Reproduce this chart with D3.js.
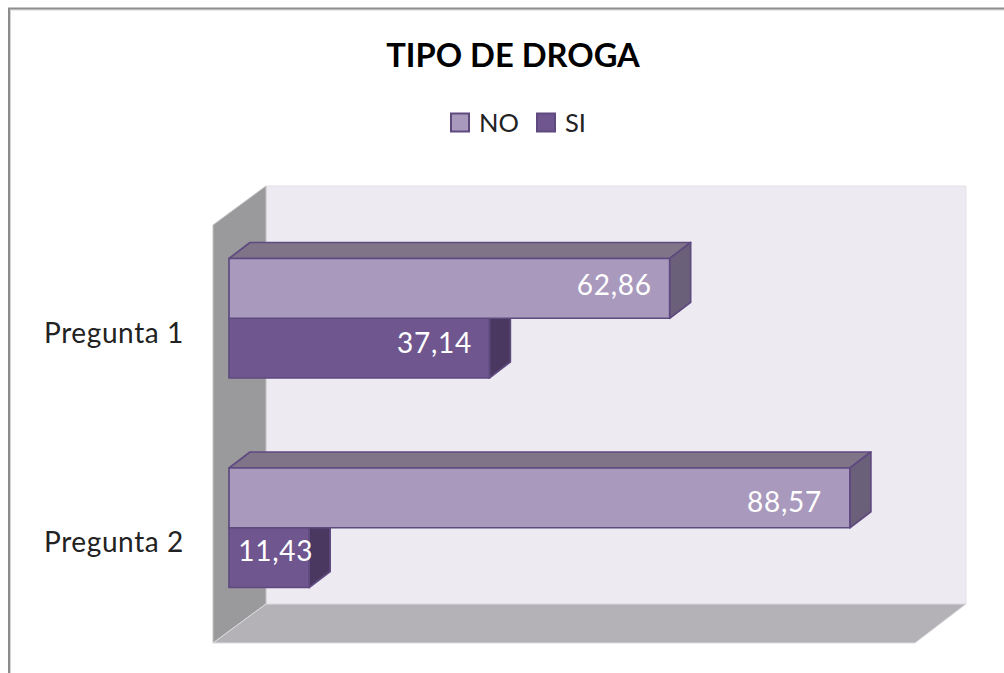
<!DOCTYPE html>
<html>
  <head>
    <meta charset="utf-8">
    <title>Tipo de droga</title>
    <script src="https://d3js.org/d3.v7.min.js"></script>
    <style>
      html, body { margin: 0; padding: 0; background: #fff; }
      svg { display: block; }
      text { font-family: Lato, "Open Sans", sans-serif; }
    </style>
  </head>
  <body>
    <svg id="chart" width="1004" height="673"></svg>
    <script>
      // chart data
      const categories = ["Pregunta 1", "Pregunta 2"];
      const seriesNames = ["NO", "SI"];
      const noValues = [62.86, 88.57];
      const siValues = [37.14, 11.43];
      const chartTitle = "TIPO DE DROGA";

      const colours = {
        NO: { front: "#a999bd", top: "#807489", side: "#6b6079", stroke: "#5f4a80" },
        SI: { front: "#6f568e", top: "#807489", side: "#4a3860", stroke: "#5f4a80" }
      };

      const svg = d3.select("#chart");
      const depth = { x: 21, y: -16 };

      // scales
      const x = d3.scaleLinear().domain([0, 100]).range([229, 930]);
      const yCat = d3.scaleBand().domain(categories).range([225, 644]);
      const ySeries = d3.scaleBand().domain(seriesNames).range([0, 119.5]);
      const barOffset = 33.5;

      // the original's data labels sit unevenly, so each one is nudged from its bar end
      const labelNudge = {
        "Pregunta 1 NO": { dx: -18, dy: 7 },
        "Pregunta 1 SI": { dx: -17.5, dy: 5 },
        "Pregunta 2 NO": { dx: -28, dy: 14 },
        "Pregunta 2 SI": { dx: 4, dy: 3.5 }
      };

      function pts(list) {
        return list.map(function(p) { return p.join(","); }).join(" ");
      }

      // outer frame
      svg.append("path")
        .attr("d", "M10.5,673V10H1004")
        .attr("fill", "none")
        .attr("stroke", "#d4d4d4")
        .attr("stroke-width", 1);
      svg.append("path")
        .attr("d", "M9,673V8.5H1004")
        .attr("fill", "none")
        .attr("stroke", "#8c8c8c")
        .attr("stroke-width", 2);

      // title
      svg.append("text")
        .attr("x", 513).attr("y", 67)
        .attr("text-anchor", "middle")
        .attr("font-size", 32.7)
        .attr("font-weight", 700)
        .attr("fill", "#000")
        .text(chartTitle);

      // legend
      const legendX = { NO: 451, SI: 537 };
      const legendText = { NO: 479, SI: 565 };
      seriesNames.forEach(function(name) {
        svg.append("rect")
          .attr("x", legendX[name]).attr("y", 113.5)
          .attr("width", 18).attr("height", 18)
          .attr("fill", colours[name].front)
          .attr("stroke", colours[name].stroke)
          .attr("stroke-width", 2);
        svg.append("text")
          .attr("x", legendText[name]).attr("y", 132)
          .attr("font-size", 25.5)
          .attr("fill", "#222")
          .text(name);
      });

      // 3d walls
      const backLeft = 266, backRight = 966, backTop = 186, backBottom = 604;
      const frontLeft = 213, frontRight = 915, frontTop = 225, frontBottom = 643;
      svg.append("polygon")
        .attr("points", pts([[backLeft, backTop], [backRight, backTop], [backRight, backBottom], [backLeft, backBottom]]))
        .attr("fill", "#edeaf1")
        .attr("stroke", "#e4e2e8");
      svg.append("polygon")
        .attr("points", pts([[frontLeft, frontTop], [backLeft, backTop], [backLeft, backBottom], [frontLeft, frontBottom]]))
        .attr("fill", "#9a999b")
        .attr("stroke", "#c4c4c6");
      svg.append("polygon")
        .attr("points", pts([[frontLeft, frontBottom], [backLeft, backBottom], [backRight, backBottom], [frontRight, frontBottom]]))
        .attr("fill", "#b4b2b6")
        .attr("stroke", "#dcdcde");

      // bars, lower series first so the upper bar's faces stay on top
      const rows = [];
      categories.forEach(function(cat, i) {
        rows.push({ cat: cat, name: "SI", value: siValues[i] });
        rows.push({ cat: cat, name: "NO", value: noValues[i] });
      });

      const barGroups = svg.selectAll("g.bar")
        .data(rows)
        .join("g")
        .attr("class", "bar");

      barGroups.each(function(d) {
        const g = d3.select(this);
        const c = colours[d.name];
        const x0 = x(0), x1 = x(d.value);
        const y0 = yCat(d.cat) + barOffset + ySeries(d.name);
        const y1 = y0 + ySeries.bandwidth();
        const faces = [
          { points: [[x0, y0], [x0 + depth.x, y0 + depth.y], [x1 + depth.x, y0 + depth.y], [x1, y0]], fill: c.top },
          { points: [[x1, y0], [x1 + depth.x, y0 + depth.y], [x1 + depth.x, y1 + depth.y], [x1, y1]], fill: c.side },
          { points: [[x0, y0], [x1, y0], [x1, y1], [x0, y1]], fill: c.front }
        ];
        faces.forEach(function(f) {
          g.append("polygon")
            .attr("points", pts(f.points))
            .attr("fill", f.fill)
            .attr("stroke", c.stroke)
            .attr("stroke-width", 1.7)
            .attr("stroke-linejoin", "round");
        });
      });

      // value labels go last so none is covered by a neighbouring bar
      svg.selectAll("text.value")
        .data(rows)
        .join("text")
        .attr("class", "value")
        .attr("x", function(d) { return x(d.value) + labelNudge[d.cat + " " + d.name].dx; })
        .attr("y", function(d) {
          return yCat(d.cat) + barOffset + ySeries(d.name) + ySeries.bandwidth() / 2 + labelNudge[d.cat + " " + d.name].dy;
        })
        .attr("text-anchor", "end")
        .attr("font-size", 28)
        .attr("letter-spacing", 0.7)
        .attr("fill", "#fff")
        .text(function(d) { return d3.format(".2f")(d.value).replace(".", ","); });

      // category labels
      svg.selectAll("text.cat")
        .data(categories)
        .join("text")
        .attr("class", "cat")
        .attr("x", 44)
        .attr("y", function(d) { return yCat(d) + barOffset + 84; })
        .attr("font-size", 28)
        .attr("letter-spacing", 0.6)
        .attr("fill", "#222")
        .text(function(d) { return d; });
    </script>
  </body>
</html>
